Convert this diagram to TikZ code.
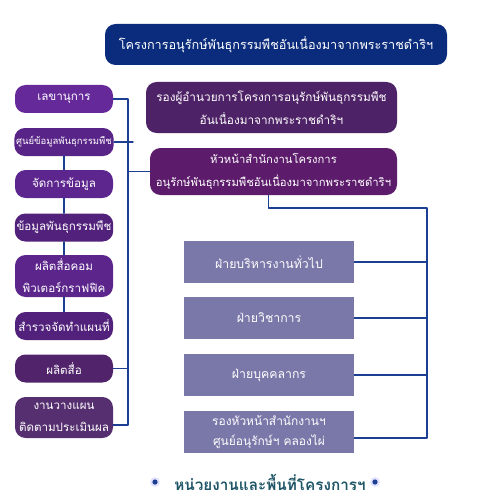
\documentclass[tikz,border=0pt]{standalone}
\usepackage{fontspec}
\newfontfamily\thai[Script=Thai]{Loma}
\newdimen\px \px=0.02cm
\definecolor{navy}{HTML}{0B2C7C}
\definecolor{grape}{HTML}{65299A}
\definecolor{plum}{HTML}{4E2266}
\definecolor{wine}{HTML}{5C1B6B}
\definecolor{slate}{HTML}{7A77A9}
\definecolor{wire}{HTML}{1C3F94}
\definecolor{teal}{HTML}{1F5566}
\tikzset{
  box/.style={rounded corners=6pt,text=white,align=center,inner sep=1pt,font=\thai\fontsize{7.2}{13}\selectfont},
  leftbox/.style={box,fill=grape,minimum width=98\px,minimum height=28\px,font=\thai\fontsize{6.6}{12.5}\selectfont},
  unit/.style={text=white,fill=slate,align=center,minimum width=170\px,minimum height=42\px,inner sep=1pt,font=\thai\fontsize{7}{11.4}\selectfont},
  link/.style={draw=wire,line width=0.8pt}
}
\begin{document}
\begin{tikzpicture}[x=\px,y=-\px,line cap=round,line join=round]
  \useasboundingbox[fill=white] (0,0) rectangle (481,500);
  % top
  \node[box,fill=navy,minimum width=342\px,minimum height=41\px] (title) at (276,44.5) {โครงการอนุรักษ์พันธุกรรมพืชอันเนื่องมาจากพระราชดำริฯ};
  \node[box,fill=plum,minimum width=251\px,minimum height=51\px,font=\thai\fontsize{6.7}{13}\selectfont] (deputy) at (271.5,107.5) {รองผู้อำนวยการโครงการอนุรักษ์พันธุกรรมพืช\\อันเนื่องมาจากพระราชดำริฯ};
  \node[box,fill=wine,minimum width=247\px,minimum height=47\px,font=\thai\fontsize{6.4}{13}\selectfont] (head) at (273.5,171.5) {หัวหน้าสำนักงานโครงการ\\อนุรักษ์พันธุกรรมพืชอันเนื่องมาจากพระราชดำริฯ};
  % left column
  \node[leftbox] (sec) at (64,99) {เลขานุการ};
  \node[leftbox,fill=grape!88!black,font=\thai\fontsize{5.4}{12}\selectfont] (gen) at (64,142) {ศูนย์ข้อมูลพันธุกรรมพืช};
  \node[leftbox,fill=grape!92!black] (dat) at (64,184) {จัดการข้อมูล};
  \node[leftbox,fill=grape!80!black] (pgr) at (64,227.5) {ข้อมูลพันธุกรรมพืช};
  \node[leftbox,fill=grape!90!black,minimum height=42\px] (cg) at (64,276) {ผลิตสื่อคอม\\พิวเตอร์กราฟฟิค};
  \node[leftbox,fill=grape!80!black] (map) at (64,326) {สำรวจจัดทำแผนที่};
  \node[leftbox,fill=plum!90!grape] (med) at (64,368.5) {ผลิตสื่อ};
  \node[leftbox,fill=plum!85!slate,minimum height=41\px] (plan) at (64,417.5) {งานวางแผน\\ติดตามประเมินผล};
  % right column
  \node[unit] (f1) at (269,262) {ฝ่ายบริหารงานทั่วไป};
  \node[unit] (f2) at (269,318) {ฝ่ายวิชาการ};
  \node[unit] (f3) at (269,375) {ฝ่ายบุคคลากร};
  \node[unit,font=\thai\fontsize{6.8}{11.4}\selectfont] (f4) at (269,432) {รองหัวหน้าสำนักงานฯ\\ศูนย์อนุรักษ์ฯ คลองไผ่};
  % wiring
  \coordinate (lbot) at (128,425);
  \coordinate (gtip) at (133,142);
  \coordinate (rtop) at (427,208);
  \coordinate (rbot) at (427,438);
  \draw[link] (sec.east) -| (lbot) -- (plan.east |- lbot);
  \draw[link] (gen.east) -- (gtip);
  \draw[link] (med.east) -- (med.east -| lbot);
  \draw[link] (head.west) -- (head.west -| lbot);
  \draw[link] (gen.south) -- (dat.north) (dat.south) -- (pgr.north)
    (pgr.south) -- (cg.north) (cg.south) -- (map.north);
  \draw[link] ([xshift=-5\px]head.south) |- (rtop) -- (rbot) -- (f4.east |- rbot);
  \foreach \f in {f1,f2,f3}
    \draw[link] (\f.east) -- (\f.east -| rbot);
  % footer
  \node[text=teal,font=\thai\bfseries\fontsize{8.7}{11}\selectfont] (foot) at (270,482) {หน่วยงานและพื้นที่โครงการฯ};
  \foreach \x in {155,375}{
    \fill[blue!12] (\x,482) circle (4.8);
    \fill[wire] (\x,482) circle (2.6);
  }
\end{tikzpicture}
\end{document}
